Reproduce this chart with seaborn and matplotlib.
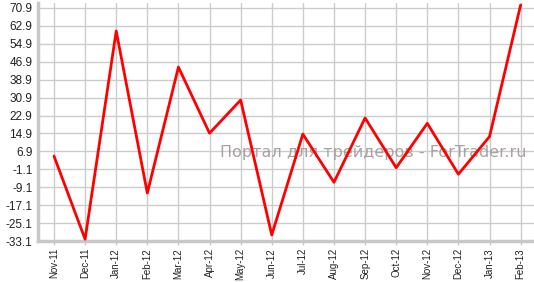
import matplotlib
matplotlib.use("Agg")
import matplotlib.pyplot as plt
import seaborn as sns
import numpy as np
import pandas as pd

months = ["Nov-11", "Dec-11", "Jan-12", "Feb-12", "Mar-12", "Apr-12", "May-12", "Jun-12",
          "Jul-12", "Aug-12", "Sep-12", "Oct-12", "Nov-12", "Dec-12", "Jan-13", "Feb-13"]
values = [4.8, -32.3, 60.6, -11.7, 44.5, 15.0, 29.8, -30.4,
          14.6, -6.9, 21.8, -0.4, 19.4, -3.3, 13.5, 72.2]
y_ticks = [-33.1, -25.1, -17.1, -9.1, -1.1, 6.9, 14.9, 22.9, 30.9, 38.9, 46.9, 54.9, 62.9, 70.9]
watermark = "Портал для трейдеров - ForTrader.ru"

df = pd.DataFrame({"idx": np.arange(len(months)), "value": values})

sns.set_theme(style="white")
plt.rcParams['font.family'] = ['Liberation Sans', 'DejaVu Sans']

fig = plt.figure(figsize=(5.34, 2.82), dpi=100)
ax = fig.add_axes([38/534, 1 - 241/282, 1 - 38/534, (241 - 3)/282])

sns.lineplot(data=df, x="idx", y="value", ax=ax, color="#ff0000", linewidth=2, zorder=3)

ax.set_xlim(-0.514, 15.43)
ax.set_ylim(-33.1, 73.1)
ax.set_yticks(y_ticks)
ax.set_yticklabels([f"{t:.1f}" for t in y_ticks], fontsize=8.5, color="#222222")
ax.set_xticks(range(len(months)))
ax.set_xticklabels(months, rotation=90, fontsize=7, color="#222222")
ax.set_xlabel("")
ax.set_ylabel("")
ax.grid(True, color="#cccccc", linewidth=1)
ax.tick_params(axis="y", length=0, pad=4)
ax.tick_params(axis="x", length=3, width=1, color="#c8c8c8", pad=2, direction="out", bottom=True)
for s in ["top", "right"]:
    ax.spines[s].set_visible(False)
for s in ["left", "bottom"]:
    ax.spines[s].set_color("#c8c8c8")
    ax.spines[s].set_linewidth(2.5)

ax.text(527/534, 1 - 152/282, watermark, transform=fig.transFigure, ha="right", va="center",
        fontsize=11.5, color="#a09898", alpha=0.9, zorder=2, family=["DejaVu Sans"])

fig.savefig("out.png", dpi=100)
